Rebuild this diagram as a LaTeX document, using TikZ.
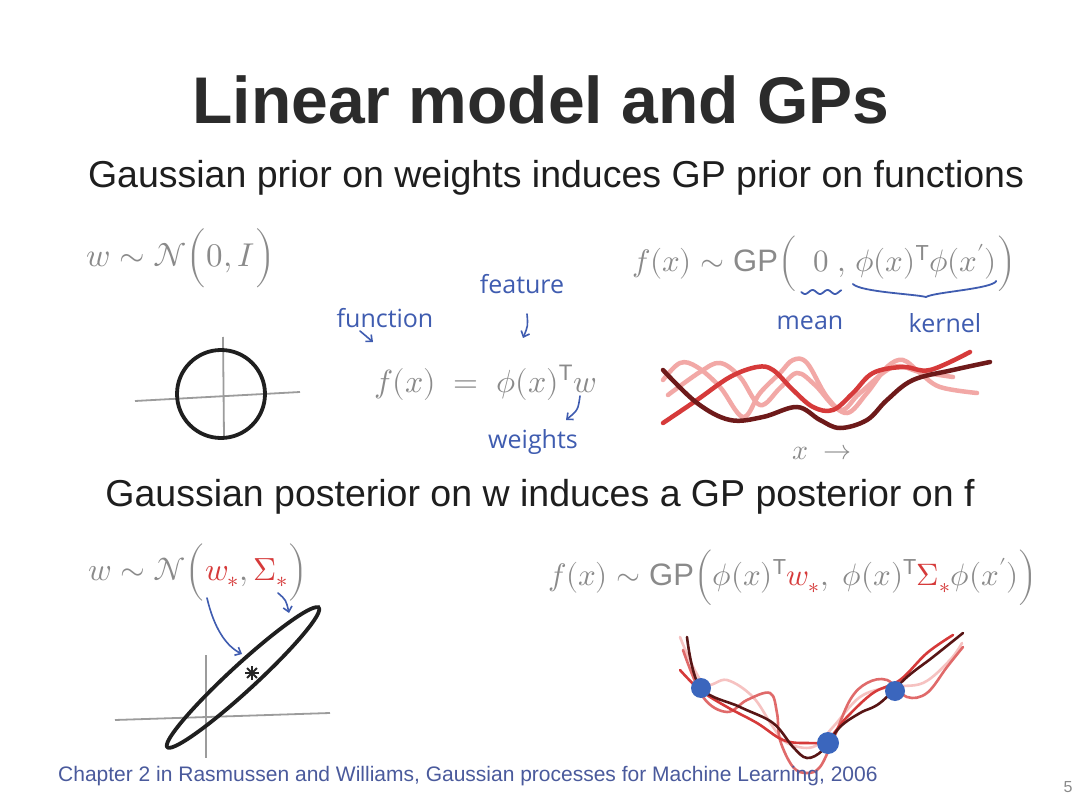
\documentclass[tikz,border=0pt]{standalone}
\usepackage{fontspec}
\usepackage{unicode-math}
\setmainfont{Liberation Sans}
\setmathfont{Latin Modern Math}
\newfontfamily\hand{Open Sans}
\usetikzlibrary{arrows.meta}
\definecolor{titlec}{HTML}{2B2B2B}
\definecolor{subc}{HTML}{1E1E1E}
\definecolor{handgray}{HTML}{8A8A8A}
\definecolor{handblue}{HTML}{3F5CB0}
\definecolor{pinkc}{HTML}{F2A8A6}
\definecolor{redc}{HTML}{D63A3A}
\definecolor{midred}{HTML}{E06A6A}
\definecolor{darkred}{HTML}{6E1A1A}
\definecolor{dotblue}{HTML}{3B66BD}
\definecolor{footblue}{HTML}{4A5A9C}
\tikzset{
  titletext/.style={font=\fontsize{66}{74}\selectfont\bfseries, text=titlec, inner sep=0pt},
  subtext/.style={font=\fontsize{37.5}{42}\selectfont, text=subc, inner sep=0pt},
  hf/.style={text=handgray, font=\fontsize{33}{38}\selectfont, inner sep=0pt},
  hl/.style={text=handblue, font=\hand\fontsize{25}{28}\selectfont, inner sep=0pt},
  harrow/.style={draw=handblue, line width=1.6pt, line cap=round, -{Straight Barb[length=5pt,width=9pt]}},
  axisline/.style={draw=handgray!85, line width=1.8pt},
  blackcurve/.style={draw=black!88, line width=3.8pt},
  topcurve/.style={line width=4.5pt, line cap=round},
  botcurve/.style={line width=2.6pt, line cap=round},
  obsdot/.style={circle, fill=dotblue, inner sep=0pt, minimum size=20pt},
  bluestroke/.style={draw=handblue, line width=1.8pt, line cap=round},
}
\begin{document}
\begin{tikzpicture}[x=1pt,y=-1pt]
\useasboundingbox[fill=white] (0,0) rectangle (1080,810);

% headings
\node[titletext] (title) at (541,100) {Linear model and GPs};
\node[subtext] (sub1) at (556,178) {Gaussian prior on weights induces GP prior on functions};
\node[subtext] (sub2) at (540,497) {Gaussian posterior on w induces a GP posterior on f};

% prior on w
\node[hf, anchor=west, font=\fontsize{33}{36}\selectfont] (prior) at (86,258) {$w\sim\mathcal{N}\Bigl(0, I\Bigr)$};
\draw[axisline] (135,401) -- (300,392);
\draw[axisline] (223,337) -- (224,437);
\node[circle, draw=black!88, line width=3.8pt, minimum size=88pt, inner sep=0pt] (circ) at (221,394) {};

% linear model
\node[hf, anchor=west, font=\fontsize{32}{36}\selectfont] (lin) at (374,383) {$f(x) \;=\; \phi(x)^{\mathrm{T}}w$};
\node[hl] (lfun) at (385,318) {function};
\node[hl] (lfeat) at (522,284) {feature};
\node[hl] (lwei) at (533,442) {weights};
\coordinate (a1s) at (360,331);
\coordinate (a1e) at (373,342);
\coordinate (a2s) at (527,314);
\coordinate (a2e) at (523,338);
\coordinate (a3s) at (580,396);
\coordinate (a3e) at (566,420);
\draw[harrow] (a1s) -- (a1e);
\draw[harrow] (a2s) .. controls (528,326) .. (a2e);
\draw[harrow] (a3s) .. controls (578,410) .. (a3e);

% GP prior
\begin{scope}[hf/.append style={font=\fontsize{31}{36}\selectfont}]
\node[hf, anchor=base west] (gpA) at (632,272) {$f(x)\sim\mathrm{GP}\Bigl(\;$};
\node[hf, anchor=base west] (gpzero) at ([xshift=8pt]gpA.base east) {$0$};
\node[hf, anchor=base west] (gpcomma) at ([xshift=8pt]gpzero.base east) {$,\;$};
\node[hf, anchor=base west] (gpK) at (gpcomma.base east) {$\phi(x)^{\mathrm{T}}\phi(x')$};
\node[hf, anchor=base west] (gpC) at (gpK.base east) {$\Bigr)$};
\end{scope}
\node[hl] (lmean) at (810,323) {mean};
\node[hl] (lkern) at (945,323) {kernel};
\draw[bluestroke, shift={(gpzero.base)}] plot[domain=-20:20, samples=41] ({\x},{20+2*sin((\x+20)*24)});
\coordinate (kL) at ([shift={(-2,12)}]gpK.base west);
\coordinate (kM) at ([shift={(0,25)}]gpK.base);
\coordinate (kR) at ([shift={(-1,9)}]gpK.base east);
\draw[bluestroke] (kL) .. controls ([shift={(8,8)}]kL) and ([shift={(-12,-3)}]kM) .. (kM) .. controls ([shift={(8,-5)}]kM) and ([shift={(-4,8)}]kR) .. (kR);

% prior samples
\draw[topcurve, pinkc] plot[smooth, tension=0.6] coordinates {(663,380) (680,363) (697,367) (720,387) (743,417) (760,393) (780,373) (793,360) (807,363) (827,397) (847,413) (867,393) (887,367) (903,360) (920,373) (940,387) (977,393)};
\draw[topcurve, pinkc] plot[smooth, tension=0.6] coordinates {(668,395) (700,372) (720,363) (740,377) (760,405) (780,388) (797,373) (815,385) (840,410) (860,393) (893,367) (920,372) (953,377)};
\draw[topcurve, redc] plot[smooth, tension=0.6] coordinates {(663,423) (697,400) (730,377) (757,367) (773,370) (793,390) (813,407) (833,410) (853,393) (873,373) (903,367) (930,370) (970,352)};
\draw[topcurve, darkred] plot[smooth, tension=0.6] coordinates {(663,370) (697,403) (730,420) (763,417) (797,407) (820,420) (840,428) (867,420) (887,400) (913,380) (953,370) (990,362)};
\node[hf, font=\fontsize{28}{32}\selectfont] (xarrow) at (822,453) {$x\ \rightarrow$};

% posterior on w
\node[hf, anchor=west, font=\fontsize{32}{36}\selectfont] (post) at (88,572) {$w\sim\mathcal{N}\Bigl(\textcolor{redc}{w_{*}},\textcolor{redc}{\Sigma_{*}}\Bigr)$};
\draw[axisline] (115,720) -- (330,713);
\draw[axisline] (206,655) -- (206,758);
\draw[blackcurve] plot[domain=0:360, samples=120, smooth] ({243+103*cos(\x)*0.735+13*sin(\x)*0.676},{677.5-103*cos(\x)*0.676+13*sin(\x)*0.735}) -- cycle;
\coordinate (mstar) at (252,673);
\foreach \ang in {0,45,90,135} \draw[black!85, line width=2pt] ([shift={(\ang:7)}]mstar) -- ([shift={(\ang+180:7)}]mstar);
\coordinate (b1s) at (207,598);
\coordinate (b1e) at (242,654);
\coordinate (b2s) at (278,593);
\coordinate (b2e) at (289,613);
\draw[harrow] (b1s) .. controls (214,628) and (226,646) .. (b1e);
\draw[harrow] (b2s) .. controls (286,600) .. (b2e);

% GP posterior
\node[hf, anchor=west, font=\fontsize{31}{36}\selectfont] (gppost) at (548,578) {$f(x)\sim\mathrm{GP}\Bigl(\phi(x)^{\mathrm{T}}\textcolor{redc}{w_{*}},\;\phi(x)^{\mathrm{T}}\textcolor{redc}{\Sigma_{*}}\phi(x')\Bigr)$};

% posterior samples
\draw[botcurve, pinkc!70] plot[smooth, tension=0.6] coordinates {(680,637) (703,683) (727,680) (753,697) (773,727) (787,743) (813,747) (833,727) (860,697) (890,687) (923,683) (950,660) (962,643)};
\draw[botcurve, midred] plot[smooth, tension=0.6] coordinates {(683,650) (703,697) (727,712) (747,700) (770,693) (777,713) (780,740) (793,767) (807,773) (820,767) (833,740) (850,700) (867,683) (887,680) (907,697) (927,693) (947,667) (963,647)};
\draw[botcurve, redc] plot[smooth, tension=0.6] coordinates {(680,670) (700,690) (727,707) (757,723) (783,740) (807,743) (827,740) (847,717) (873,693) (900,680) (927,653) (953,635)};
\draw[botcurve, darkred!80!black] plot[smooth, tension=0.6] coordinates {(687,637) (700,687) (740,707) (773,723) (793,747) (807,758) (823,750) (840,727) (860,713) (880,703) (907,677) (933,657) (963,633)};
\node[obsdot] (o1) at (701,688) {};
\node[obsdot, minimum size=22pt] (o2) at (828,743) {};
\node[obsdot] (o3) at (895,691) {};

% footer
\node[anchor=west, text=footblue, font=\fontsize{21}{24}\selectfont, inner sep=0pt] (foot) at (58,776) {Chapter 2 in Rasmussen and Williams, Gaussian processes for Machine Learning, 2006};
\node[text=handgray, font=\fontsize{16}{18}\selectfont, inner sep=0pt] (pnum) at (1068,787) {5};
\end{tikzpicture}
\end{document}
